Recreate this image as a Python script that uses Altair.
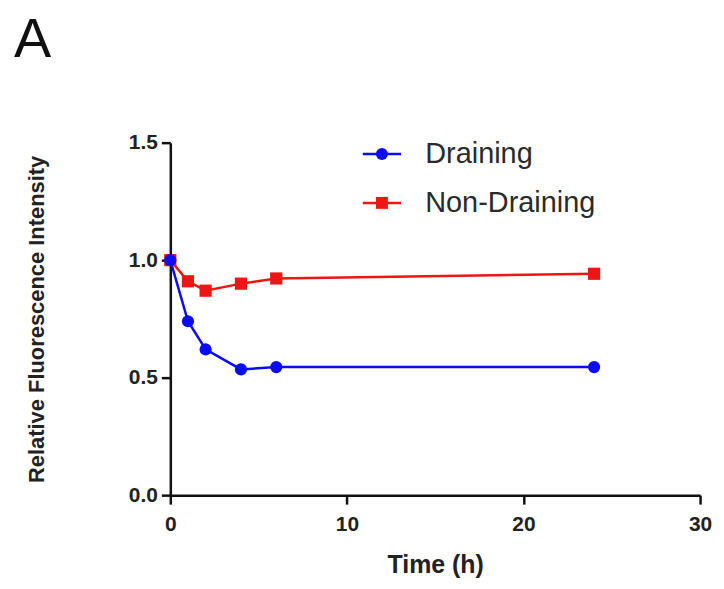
import altair as alt
import pandas as pd

# ---- data ----
time_h = [0, 1, 2, 4, 6, 24]
draining = [1.0, 0.74, 0.62, 0.535, 0.545, 0.545]
non_draining = [1.0, 0.91, 0.87, 0.90, 0.922, 0.942]
series_names = ["Draining", "Non-Draining"]
series_colors = ["#0c0cf2", "#ee1515"]
series_shapes = ["circle", "square"]
x_ticks = [0, 10, 20, 30]
y_ticks = [0.0, 0.5, 1.0, 1.5]

rows = []
# Non-Draining first so the Draining markers are drawn on top
for t, v in zip(time_h, non_draining):
    rows.append({"time": t, "value": v, "series": "Non-Draining"})
for t, v in zip(time_h, draining):
    rows.append({"time": t, "value": v, "series": "Draining"})
df = pd.DataFrame(rows)
df["grp"] = df["series"]

FONT = "Liberation Sans"

x_enc = alt.X(
    "time:Q",
    scale=alt.Scale(domain=[0, 30], nice=False),
    axis=alt.Axis(values=x_ticks, title="Time (h)", titleY=70, titleBaseline="middle",
                  titleFontSize=25, labelPadding=10, labelFlush=False),
)
y_enc = alt.Y(
    "value:Q",
    scale=alt.Scale(domain=[0, 1.5], nice=False),
    axis=alt.Axis(values=y_ticks, format=".1f", title="Relative Fluorescence Intensity",
                  titleX=-134, titleBaseline="middle", titleFontSize=22, labelPadding=4,
                  labelFlush=False),
)

LEG_X = 184
LEG_Y = -3
LEG_COMMON = dict(
    title=None, orient="none", legendX=LEG_X, legendY=LEG_Y,
    symbolSize=144, symbolStrokeWidth=2.5, symbolOffset=14,
    labelFontSize=29, labelFont=FONT, labelLimit=400, rowPadding=19, labelOffset=29,
)

# line layer: its own (data-driven) stroke scale so its legend stays separate
lines = alt.Chart(df).mark_line(strokeWidth=2.5).encode(
    x=x_enc,
    y=y_enc,
    stroke=alt.Stroke(
        "grp:N",
        scale=alt.Scale(range=series_colors),
        legend=alt.Legend(symbolType="M-3.2,0H3.2", labelOpacity=0, **LEG_COMMON),
    ),
)

points = alt.Chart(df).mark_point(filled=True, size=150, opacity=1).encode(
    x=x_enc,
    y=y_enc,
    color=alt.Color(
        "series:N",
        scale=alt.Scale(domain=series_names, range=series_colors),
        legend=alt.Legend(labelColor="#2a2a2a", symbolOpacity=1, **LEG_COMMON),
    ),
    shape=alt.Shape(
        "series:N",
        scale=alt.Scale(domain=series_names, range=series_shapes),
        legend=alt.Legend(labelColor="#2a2a2a", symbolOpacity=1, **LEG_COMMON),
    ),
)

chart = (
    alt.layer(lines, points)
    .properties(
        width=532,
        height=354,
        autosize=alt.AutoSizeParams(type="none"),
        padding={"left": 163, "top": 134, "right": 16, "bottom": 84},
        title=alt.TitleParams(
            "A", anchor="start", frame="group", fontSize=56, fontWeight="normal",
            font=FONT, dx=-157, offset=19, baseline="alphabetic", color="#111111",
        ),
    )
    .configure_view(stroke=None)
    .configure_axis(
        grid=False,
        domainColor="#111111",
        domainWidth=2.5,
        tickColor="#111111",
        tickWidth=2.5,
        tickSize=9,
        labelFont=FONT,
        labelFontWeight="bold",
        labelFontSize=21,
        labelColor="#222222",
        titleFont=FONT,
        titleFontWeight="bold",
        titleColor="#222222",
    )
)

chart.save("out.html", embed_options={"renderer": "svg", "actions": False})
